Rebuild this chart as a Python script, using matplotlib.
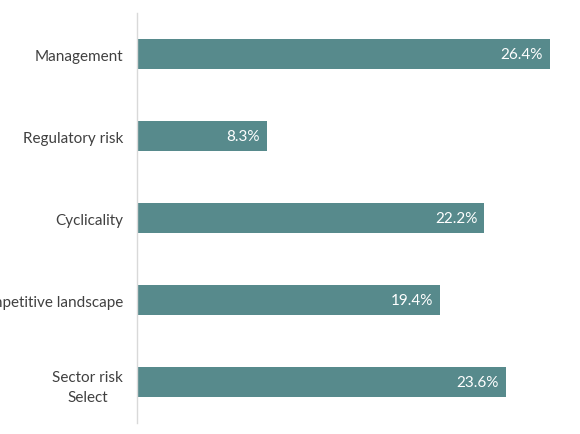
import matplotlib.pyplot as plt

plt.rcParams.update({'font.family': ['Lato', 'DejaVu Sans'], 'font.size': 11})

categories = ['Management', 'Regulatory risk', 'Cyclicality',
              'Competitive landscape', 'Sector risk\nSelect']
values = [26.4, 8.3, 22.2, 19.4, 23.6]
labels = ['26.4%', '8.3%', '22.2%', '19.4%', '23.6%']

BAR = '#578a8c'

fig = plt.figure(figsize=(5.8, 4.35), dpi=100)
ax = fig.add_axes([137 / 580, 11 / 435, 443 / 580, 410 / 435])

pos = list(range(len(categories)))
ax.barh(pos, values, height=0.36, color=BAR)
for p, v, lab in zip(pos, values, labels):
	ax.text(v - 0.45, p, lab, ha='right', va='center', color='white', fontsize=11)

ax.set_xlim(0, 26.4 * 443 / 413)
ax.set_ylim(len(categories) - 0.5, -0.5)
ax.set_yticks(pos)
ax.set_yticklabels(categories, color='#404040', multialignment='center', linespacing=1.55)
ax.tick_params(axis='y', length=0, pad=10)
ax.set_xticks([])
for s in ['top', 'right', 'bottom']:
	ax.spines[s].set_visible(False)
ax.spines['left'].set_color('#d9d9d9')
ax.spines['left'].set_linewidth(1)

fig.savefig('out.png', dpi=100)
